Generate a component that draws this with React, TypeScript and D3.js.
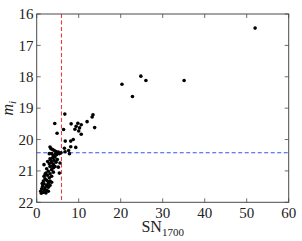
import React from "react";
import * as d3 from "d3";

const xTicks = [0, 10, 20, 30, 40, 50, 60];
const yTicks = [16, 17, 18, 19, 20, 21, 22];

// SN_1700 values of the galaxies
const snValues = [
  52.0, 35.1, 24.8, 26.0, 20.3, 22.8,
  6.7, 13.4, 13.2, 4.3, 8.2, 9.8, 10.6, 12.0, 9.4, 10.2, 9.1, 10.0, 10.6, 13.8,
  6.4, 4.85, 8.7, 8.1, 6.8, 8.1, 9.3, 6.6, 7.6, 6.75, 7.8,
  3.17, 3.4, 3.8, 4.2, 4.6, 5.15, 5.79, 3.0, 3.56, 3.96, 4.75, 5.39, 4.36, 3.8,
  3.17, 4.91, 4.12, 3.56, 4.6, 5.55, 3.0, 3.96, 1.74, 3.17, 4.36, 5.15, 2.37,
  3.56, 2.77, 3.96, 5.39, 2.21, 3.17, 2.53, 1.74, 3.56, 3.0, 1.98, 2.37, 1.58,
  3.17, 2.77, 1.74, 2.37, 1.42, 1.98, 2.77, 1.18, 1.74, 2.37, 0.95, 1.42, 1.98,
  2.77, 3.17, 3.56, 1.58, 1.1,
  2.0, 2.6, 4.0, 2.9, 1.3, 2.2, 3.3, 4.5, 3.7,
];

// m_i magnitudes of the galaxies
const magValues = [
  16.45, 18.12, 17.98, 18.12, 18.24, 18.63,
  19.19, 19.21, 19.28, 19.49, 19.5, 19.48, 19.53, 19.43, 19.58, 19.63, 19.67, 19.73, 19.83, 19.62,
  19.68, 19.8, 20.0, 20.05, 20.05, 20.23, 20.25, 20.28, 20.35, 20.39, 20.45,
  20.24, 20.29, 20.32, 20.35, 20.38, 20.4, 20.42, 20.45, 20.45, 20.51, 20.48, 20.45, 20.56, 20.58,
  20.61, 20.64, 20.66, 20.72, 20.72, 20.75, 20.77, 20.79, 20.8, 20.86, 20.86, 20.88, 20.93,
  20.96, 21.01, 21.04, 21.07, 21.07, 21.09, 21.14, 21.17, 21.17, 21.22, 21.25, 21.3, 21.32,
  21.32, 21.39, 21.41, 21.46, 21.49, 21.54, 21.52, 21.57, 21.6, 21.62, 21.65, 21.68, 21.67,
  21.65, 21.46, 21.36, 21.68, 21.71,
  21.1, 20.7, 20.9, 21.35, 21.4, 21.7, 20.65, 20.45, 20.85,
];

const snCut = 5.9;
const magCut = 20.42;

export default function App() {
  const W = 302;
  const H = 241;
  const L = 36.7, R = 288.7, T = 14, B = 202.3;
  const x = d3.scaleLinear().domain([0, 60]).range([L, R]);
  const y = d3.scaleLinear().domain([16, 22]).range([T, B]);
  const font = "Liberation Serif, DejaVu Serif, serif";
  const axisColor = "#4a4a4a";
  const tickLen = 4;
  const pts = snValues.map((s, i) => [s, magValues[i]] as [number, number]);

  return (
    <svg width={W} height={H} style={{ position: "absolute", left: 0, top: 0, background: "#fff" }}>
      <rect x={0} y={0} width={W} height={H} fill="#fff" />
      {/* threshold lines */}
      <line x1={x(snCut)} x2={x(snCut)} y1={T} y2={B} stroke="#f03a3a" strokeWidth={1.1} strokeDasharray="4,2.5" />
      <line x1={L} x2={R} y1={y(magCut)} y2={y(magCut)} stroke="#3552f2" strokeWidth={1.1} strokeDasharray="4,2.5" />
      {/* points */}
      {pts.map(([s, m], i) => (
        <circle key={i} cx={x(s)} cy={y(m)} r={1.8} fill="#000" />
      ))}
      {/* frame */}
      <rect x={L} y={T} width={R - L} height={B - T} fill="none" stroke={axisColor} strokeWidth={1} />
      {/* x ticks */}
      {xTicks.map((t) => (
        <g key={"x" + t}>
          <line x1={x(t)} x2={x(t)} y1={B} y2={B - tickLen} stroke={axisColor} strokeWidth={0.8} />
          <line x1={x(t)} x2={x(t)} y1={T} y2={T + tickLen} stroke={axisColor} strokeWidth={0.8} />
          <text x={x(t)} y={218} fontFamily={font} fontSize={15} textAnchor="middle" fill="#222">{t}</text>
        </g>
      ))}
      {/* y ticks */}
      {yTicks.map((t) => (
        <g key={"y" + t}>
          <line x1={L} x2={L + tickLen} y1={y(t)} y2={y(t)} stroke={axisColor} strokeWidth={0.8} />
          <line x1={R} x2={R - tickLen} y1={y(t)} y2={y(t)} stroke={axisColor} strokeWidth={0.8} />
          <text x={33.5} y={y(t)} dy="0.35em" fontFamily={font} fontSize={15} textAnchor="end" fill="#222">{t}</text>
        </g>
      ))}
      {/* x label */}
      <text x={(L + R) / 2} y={232} fontFamily={font} fontSize={16} textAnchor="middle" fill="#222">
        SN<tspan fontSize={11} dy={4}>1700</tspan>
      </text>
      {/* y label */}
      <text transform={`translate(13,${(T + B) / 2}) rotate(-90)`} fontFamily={font} fontSize={16} textAnchor="middle" fill="#222">
        <tspan fontStyle="italic">m</tspan>
        <tspan fontStyle="italic" fontSize={11} dy={3}>i</tspan>
      </text>
    </svg>
  );
}
